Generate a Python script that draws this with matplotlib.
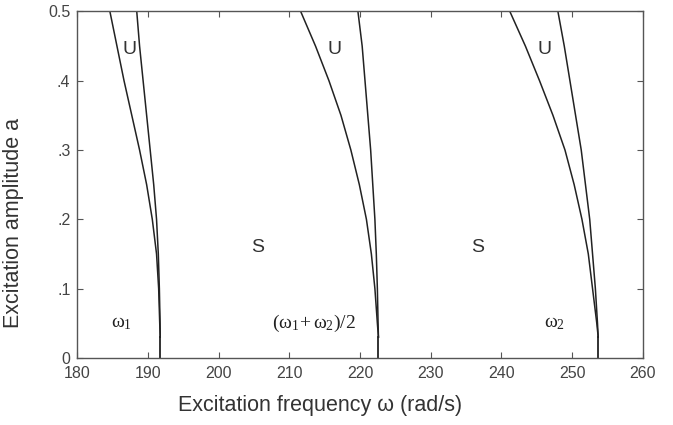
import matplotlib
matplotlib.use("Agg")
import matplotlib.pyplot as plt

# stability boundaries: amplitude a -> frequency w
amp = [0.5, 0.45, 0.4, 0.35, 0.3, 0.25, 0.2, 0.15, 0.1, 0.05]

t1_left = [184.6, 185.6, 186.6, 187.7, 188.8, 189.8, 190.6, 191.2, 191.5, 191.65]
t1_right = [188.4, 188.8, 189.3, 189.8, 190.3, 190.8, 191.2, 191.45, 191.6, 191.7]
t1_root = 191.72

t2_left = [211.6, 213.7, 215.6, 217.3, 218.7, 219.9, 220.9, 221.6, 222.1, 222.45]
t2_right = [219.7, 220.3, 220.7, 221.1, 221.5, 221.8, 222.1, 222.3, 222.45, 222.55]
t2_root = 222.6

t3_left = [241.2, 243.4, 245.4, 247.3, 249.0, 250.3, 251.4, 252.3, 252.9, 253.5]
t3_right = [248.0, 248.9, 249.7, 250.5, 251.3, 251.9, 252.5, 252.9, 253.3, 253.6]
t3_root = 253.7

tongues = [(t1_left, t1_right, t1_root),
           (t2_left, t2_right, t2_root),
           (t3_left, t3_right, t3_root)]

xticks = [180, 190, 200, 210, 220, 230, 240, 250, 260]
yticks = [0, 0.1, 0.2, 0.3, 0.4, 0.5]
ytick_labels = ["0", ".1", ".2", ".3", ".4", "0.5"]

u_pos = [(187.4, 0.445), (216.4, 0.445), (246.1, 0.445)]
s_pos = [(205.5, 0.16), (236.6, 0.16)]
w_labels = [(186.3, 0.05, r"$\omega_1$"),
            (213.5, 0.05, r"$(\omega_1\!+\omega_2)/2$"),
            (247.5, 0.05, r"$\omega_2$")]

plt.rcParams["font.family"] = ["Liberation Sans", "DejaVu Sans"]
plt.rcParams["mathtext.fontset"] = "custom"
plt.rcParams["mathtext.rm"] = "Liberation Serif"
plt.rcParams["mathtext.it"] = "Liberation Serif"
plt.rcParams["mathtext.bf"] = "Liberation Serif:bold"

fig = plt.figure(figsize=(6.73, 4.25), dpi=100)
ax = fig.add_axes([0.115, 0.158, 0.84, 0.815])

lc = "#222222"
for left, right, root in tongues:
    ax.plot(left + [root], amp + [0.03], color=lc, lw=1.1)
    ax.plot(right + [root], amp + [0.03], color=lc, lw=1.1)
    ax.plot([root, root], [0.0, 0.03], color=lc, lw=1.3)

for x, y in u_pos:
    ax.text(x, y, "U", fontsize=14, color="#333333", ha="center", va="center")
for x, y in s_pos:
    ax.text(x, y, "S", fontsize=14, color="#333333", ha="center", va="center")
for x, y, s in w_labels:
    ax.text(x, y, s, fontsize=14, color="#222222", ha="center", va="center")

ax.set_xlim(180, 260)
ax.set_ylim(0, 0.5)
ax.set_xticks(xticks)
ax.set_yticks(yticks)
ax.set_yticklabels(ytick_labels)
ax.tick_params(direction="in", top=True, right=True, length=4, width=0.8,
               labelsize=11.5, labelcolor="#444444", color="#555555")
ax.tick_params(axis="x", pad=6)
ax.tick_params(axis="y", pad=5)
for sp in ax.spines.values():
    sp.set_color("#555555")
    sp.set_linewidth(1.0)

ax.set_xlabel("Excitation frequency \u03c9 (rad/s)", fontsize=15.5, color="#333333")
ax.set_ylabel("Excitation amplitude a", fontsize=15.5, color="#333333")
ax.xaxis.set_label_coords(0.43, -0.108)
ax.yaxis.set_label_coords(-0.095, 0.39)

fig.savefig("out.png", dpi=100)
